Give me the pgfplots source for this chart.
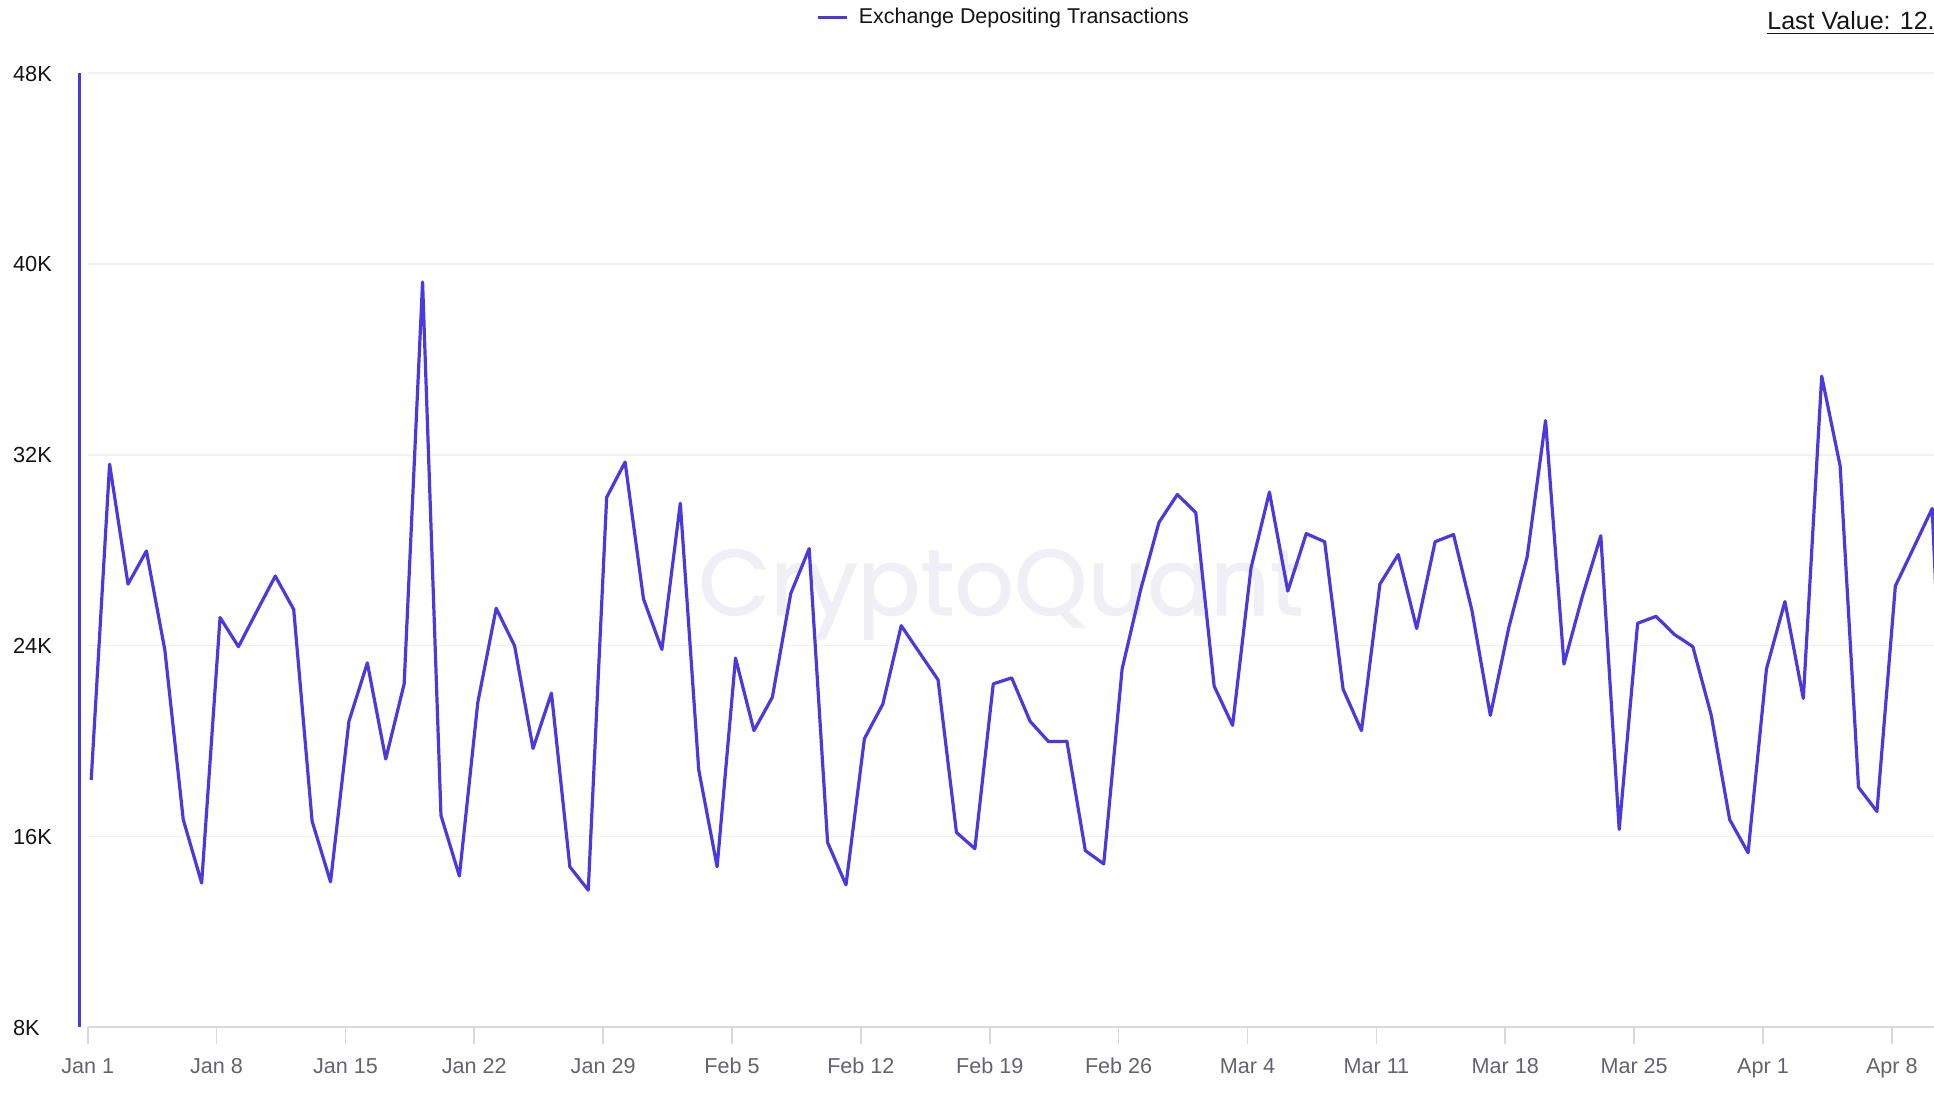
\documentclass[border=0pt]{standalone}
\usepackage{fontspec}
\setmainfont{Liberation Sans}
\newfontfamily\wmfont[FakeBold=1.2]{Poppins}
\usepackage{pgfplots}
\pgfplotsset{compat=1.18}
\definecolor{lineblue}{RGB}{75,57,224}
\definecolor{gridc}{RGB}{241,241,244}
\definecolor{axisc}{RGB}{216,216,226}
\definecolor{tickc}{RGB}{99,99,112}
\definecolor{wmc}{RGB}{240,239,246}
\definecolor{txt}{RGB}{20,20,20}
\begin{document}
\begin{tikzpicture}
\path[use as bounding box] (0,0) rectangle (967bp,551.5bp);
\clip (0,0) rectangle (967bp,551.5bp);
\node[anchor=base, inner sep=0pt, text=wmc, font=\wmfont\fontsize{46.6bp}{50bp}\selectfont] at (500.5bp,244bp) {CryptoQuant};
\begin{axis}[
  at={(43.85bp,37.85bp)}, anchor=south west,
  scale only axis, width=923.15bp, height=477bp,
  xmin=0, xmax=100.29, ymin=8, ymax=48,
  axis x line*=bottom, axis y line*=left,
  x axis line style={draw=axisc, line width=0.85bp},
  y axis line style={draw=lineblue, line width=1.65bp, xshift=-4.2bp},
  xtick={0,7,14,21,28,35,42,49,56,63,70,77,84,91,98},
  xticklabels={Jan 1,Jan 8,Jan 15,Jan 22,Jan 29,Feb 5,Feb 12,Feb 19,Feb 26,Mar 4,Mar 11,Mar 18,Mar 25,Apr 1,Apr 8},
  ytick={8,16,24,32,40,48},
  yticklabels={8K,16K,24K,32K,40K,48K},
  /pgf/number format/assume math mode=true,
  xtick align=outside, major tick length=8.5bp,
  xtick style={draw=axisc, line width=0.85bp},
  ytick style={draw=none},
  ymajorgrids, xmajorgrids=false,
  y grid style={draw=gridc, line width=0.8bp},
  xticklabel style={anchor=base, inner sep=0pt, yshift=-14.8bp, text=tickc, font=\fontsize{10.8bp}{12bp}\selectfont},
  yticklabel style={anchor=base west, inner sep=0pt, xshift=-37.5bp, yshift=-3.9bp, text=txt, font=\fontsize{10.9bp}{12bp}\selectfont},
  legend style={at={(0.3947,1.059)}, anchor=west, draw=none, fill=none, inner sep=0pt, text=txt, font=\fontsize{10.7bp}{12bp}\selectfont, nodes={inner sep=0pt}},
  legend image code/.code={\draw[#1, line width=1.5bp] (0bp,0bp) -- (14.5bp,0bp); \path (19.5bp,0bp);},
]
\addplot[lineblue, line width=1.6bp, line join=round, mark=none, xshift=1.75bp] coordinates {
(0,18.37) (1,31.61) (2,26.58) (3,27.97) (4,23.82) (5,16.71) (6,14.05) (7,25.18) (8,23.96) (9,25.45)
(10,26.92) (11,25.52) (12,16.64) (13,14.10) (14,20.83) (15,23.28) (16,19.25) (17,22.40) (18,39.25) (19,16.88)
(20,14.34) (21,21.62) (22,25.57) (23,23.99) (24,19.69) (25,22.01) (26,14.73) (27,13.75) (28,30.22) (29,31.70)
(30,25.96) (31,23.84) (32,29.97) (33,18.80) (34,14.73) (35,23.48) (36,20.44) (37,21.84) (38,26.19) (39,28.07)
(40,15.75) (41,13.97) (42,20.10) (43,21.55) (44,24.84) (45,23.70) (46,22.57) (47,16.17) (48,15.49) (49,22.40)
(50,22.65) (51,20.83) (52,19.98) (53,19.99) (54,15.41) (55,14.85) (56,23.03) (57,26.33) (58,29.17) (59,30.34)
(60,29.58) (61,22.30) (62,20.66) (63,27.26) (64,30.44) (65,26.29) (66,28.70) (67,28.36) (68,22.18) (69,20.44)
(70,26.58) (71,27.82) (72,24.72) (73,28.36) (74,28.66) (75,25.48) (76,21.08) (77,24.75) (78,27.72) (79,33.44)
(80,23.23) (81,26.07) (82,28.61) (83,16.30) (84,24.94) (85,25.23) (86,24.47) (87,23.96) (88,21.08) (89,16.71)
(90,15.32) (91,23.03) (92,25.85) (93,21.79) (94,35.30) (95,31.54) (96,18.06) (97,17.05) (98,26.50) (99,28.12)
(100,29.75) (101,12.60)
};
\addlegendentry{Exchange Depositing Transactions}
\end{axis}
\node[anchor=base east, inner sep=0pt, text=txt, font=\fontsize{12.5bp}{15bp}\selectfont] at (967.5bp,536.5bp) {\underline{Last Value: 12.}};
\end{tikzpicture}
\end{document}
